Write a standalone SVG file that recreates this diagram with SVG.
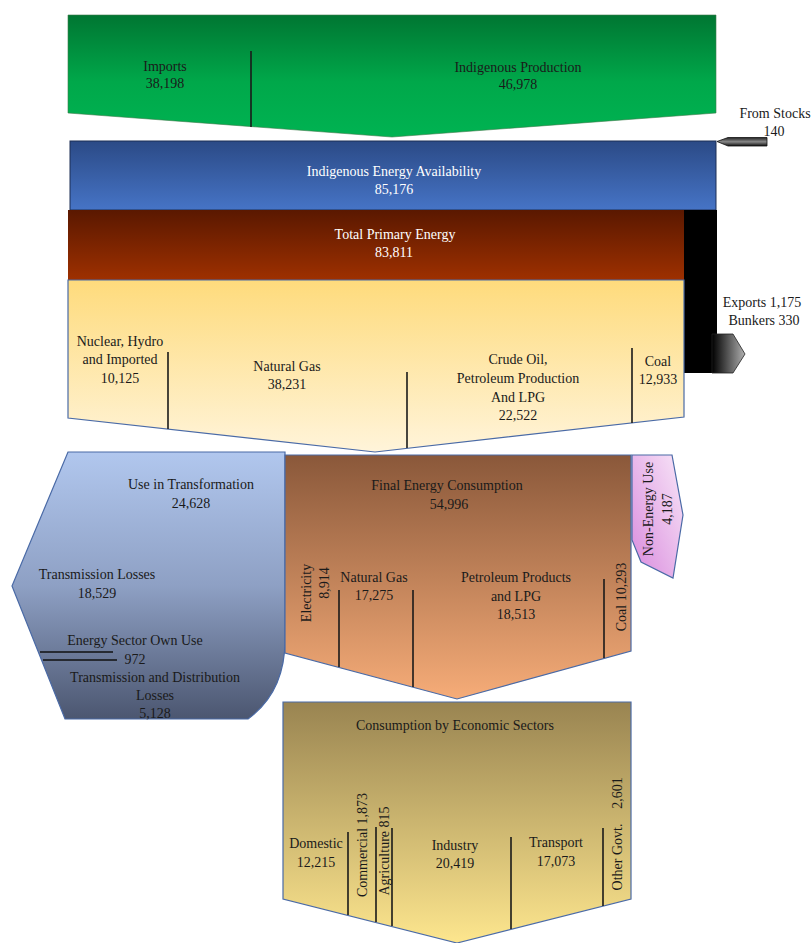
<svg xmlns="http://www.w3.org/2000/svg" width="812" height="943" viewBox="0 0 812 943">
<defs>
<linearGradient id="gGreen" x1="0" y1="0" x2="0" y2="1"><stop offset="0" stop-color="#007632"/><stop offset="0.55" stop-color="#00a84a"/><stop offset="1" stop-color="#00b352"/></linearGradient>
<linearGradient id="gBlue" x1="0" y1="0" x2="0" y2="1"><stop offset="0" stop-color="#2b4a86"/><stop offset="1" stop-color="#4674c6"/></linearGradient>
<linearGradient id="gRed" x1="0" y1="0" x2="0" y2="1"><stop offset="0" stop-color="#5a1800"/><stop offset="1" stop-color="#9e3000"/></linearGradient>
<linearGradient id="gYellow" x1="0" y1="0" x2="0" y2="1"><stop offset="0" stop-color="#fedb7c"/><stop offset="1" stop-color="#fff4da"/></linearGradient>
<linearGradient id="gSlate" x1="0" y1="0" x2="0" y2="1"><stop offset="0" stop-color="#b1c7ee"/><stop offset="0.5" stop-color="#8ea0c4"/><stop offset="1" stop-color="#4b5670"/></linearGradient>
<linearGradient id="gOrange" x1="0" y1="0" x2="0" y2="1"><stop offset="0" stop-color="#8a583a"/><stop offset="1" stop-color="#f6ac78"/></linearGradient>
<linearGradient id="gGold" x1="0" y1="0" x2="0" y2="1"><stop offset="0" stop-color="#998451"/><stop offset="1" stop-color="#fde68e"/></linearGradient>
<linearGradient id="gPink" x1="0" y1="1" x2="1" y2="0"><stop offset="0" stop-color="#d98add"/><stop offset="1" stop-color="#f8e6f8"/></linearGradient>
<linearGradient id="gArrow" x1="0" y1="0" x2="1" y2="0"><stop offset="0" stop-color="#000"/><stop offset="1" stop-color="#b0b0b0"/></linearGradient>
<linearGradient id="gStock" x1="0" y1="0" x2="0" y2="1"><stop offset="0" stop-color="#222"/><stop offset="0.5" stop-color="#888"/><stop offset="1" stop-color="#111"/></linearGradient>
</defs>
<style>
text{font-family:"Liberation Serif","Times New Roman",serif;font-size:14px;fill:#1a1a1a;text-anchor:middle}
.w{fill:#ffffff}
.sh{stroke:#4a6aa6;stroke-width:1.2}
.dv{stroke:#1a1a1a;stroke-width:1.6;fill:none}
</style>

<g id="supply">
<polygon points="68,15 716,15 716,113 392,137 68,113" fill="url(#gGreen)" stroke="#3d7a4a" stroke-width="0.6"/>
<line class="dv" x1="251" y1="51" x2="251" y2="127"/>
<text x="165" y="71">Imports</text><text x="165" y="88">38,198</text>
<text x="518" y="72">Indigenous Production</text><text x="518" y="89">46,978</text>
</g>

<g id="availability">
<rect x="70" y="141" width="646" height="69" fill="url(#gBlue)" stroke="#1d2f55" stroke-width="1"/>
<text class="w" x="394" y="176">Indigenous Energy Availability</text><text class="w" x="394" y="194">85,176</text>
</g>

<g id="stocks">
<polygon points="717,141.5 728,137.5 767,137.5 767,146 728,146" fill="url(#gStock)" stroke="#111" stroke-width="0.8"/>
<text x="775" y="118">From Stocks</text><text x="774" y="136">140</text>
</g>

<g id="exports">
<rect x="684" y="210" width="33" height="163" fill="#000"/>
<polygon points="717,334 733,334 745,354 733,373 712,373 712,334" fill="url(#gArrow)" stroke="#222" stroke-width="0.8"/>
<text x="762" y="307">Exports 1,175</text><text x="764" y="325">Bunkers 330</text>
</g>

<g id="primary">
<rect x="68" y="210" width="616" height="70" fill="url(#gRed)"/>
<text class="w" x="395" y="239">Total Primary Energy</text><text class="w" x="394" y="257">83,811</text>
</g>

<g id="primary-sources">
<polygon class="sh" points="68,280 684,280 684,417 375,452 68,418" fill="url(#gYellow)"/>
<line class="dv" x1="168" y1="352" x2="168" y2="429"/>
<line class="dv" x1="407" y1="372" x2="407" y2="448"/>
<line class="dv" x1="632" y1="348" x2="632" y2="423"/>
<text x="120" y="346">Nuclear, Hydro</text><text x="120" y="364">and Imported</text><text x="120" y="383">10,125</text>
<text x="287" y="371">Natural Gas</text><text x="287" y="389">38,231</text>
<text x="518" y="364">Crude Oil,</text><text x="518" y="383">Petroleum Production</text><text x="518" y="402">And LPG</text><text x="518" y="420">22,522</text>
<text x="658" y="366">Coal</text><text x="658" y="384">12,933</text>
</g>

<g id="transformation">
<path class="sh" d="M68,452 L285,452 L285,640 Q285,692 248,719 L65,719 L12,586 Z" fill="url(#gSlate)"/>
<line x1="40" y1="652" x2="113" y2="652" stroke="#111" stroke-width="1.5"/>
<line x1="43" y1="660" x2="117" y2="660" stroke="#111" stroke-width="1.5"/>
<text x="191" y="489">Use in Transformation</text><text x="191" y="508">24,628</text>
<text x="97" y="579">Transmission Losses</text><text x="97" y="598">18,529</text>
<text x="135" y="645">Energy Sector Own Use</text><text x="135" y="664">972</text>
<text x="155" y="682">Transmission and Distribution</text><text x="155" y="700">Losses</text><text x="155" y="718">5,128</text>
</g>

<g id="final-consumption">
<polygon class="sh" points="285,455 631,455 631,651 457,699 285,653" fill="url(#gOrange)"/>
<line class="dv" x1="339" y1="590" x2="339" y2="667"/>
<line class="dv" x1="413" y1="590" x2="413" y2="687"/>
<line class="dv" x1="604" y1="579" x2="604" y2="658"/>
<text x="447" y="490">Final Energy Consumption</text><text x="449" y="509">54,996</text>
<text x="306" y="593" dy="0.35em" transform="rotate(-90 306 593)">Electricity</text>
<text x="324" y="583" dy="0.35em" transform="rotate(-90 324 583)">8,914</text>
<text x="374" y="582">Natural Gas</text><text x="374" y="600">17,275</text>
<text x="516" y="582">Petroleum Products</text><text x="516" y="601">and LPG</text><text x="516" y="619">18,513</text>
<text x="621" y="597" dy="0.35em" transform="rotate(-90 621 597)">Coal 10,293</text>
</g>

<g id="non-energy">
<polygon class="sh" points="632,455 672,455 683,515 673,578 641,562 632,540" fill="url(#gPink)"/>
<text x="648" y="509" dy="0.35em" transform="rotate(-90 648 509)">Non-Energy Use</text>
<text x="667" y="509" dy="0.35em" transform="rotate(-90 667 509)">4,187</text>
</g>

<g id="sectors">
<polygon class="sh" points="283,702 631,702 631,899 457,943 283,899" fill="url(#gGold)"/>
<line class="dv" x1="348" y1="832" x2="348" y2="915"/>
<line class="dv" x1="376" y1="827" x2="376" y2="922"/>
<line class="dv" x1="392" y1="828" x2="392" y2="926"/>
<line class="dv" x1="511" y1="837" x2="511" y2="929"/>
<line class="dv" x1="603" y1="828" x2="603" y2="906"/>
<text x="455" y="730">Consumption by Economic Sectors</text>
<text x="316" y="848">Domestic</text><text x="316" y="867">12,215</text>
<text x="362" y="845" dy="0.35em" transform="rotate(-90 362 845)">Commercial 1,873</text>
<text x="384" y="851" dy="0.35em" transform="rotate(-90 384 851)">Agriculture 815</text>
<text x="455" y="850">Industry</text><text x="455" y="868">20,419</text>
<text x="556" y="847">Transport</text><text x="556" y="866">17,073</text>
<text x="617" y="857" dy="0.35em" transform="rotate(-90 617 857)">Other Govt.</text>
<text x="617" y="793" dy="0.35em" transform="rotate(-90 617 793)">2,601</text>
</g>

<g id="connectors"></g>
</svg>
